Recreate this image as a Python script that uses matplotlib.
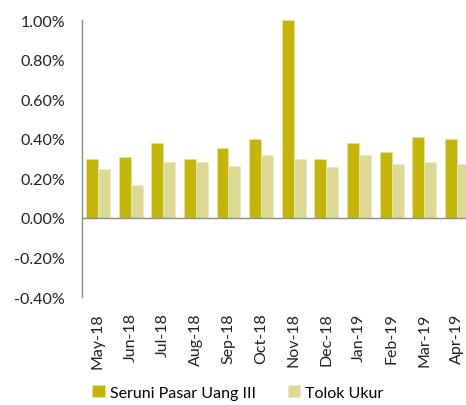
import matplotlib.pyplot as plt
import numpy as np
from matplotlib.ticker import FuncFormatter

# --- data (percent) ---
months = ["May-18", "Jun-18", "Jul-18", "Aug-18", "Sep-18", "Oct-18",
          "Nov-18", "Dec-18", "Jan-19", "Feb-19", "Mar-19", "Apr-19"]
fund = [0.30, 0.31, 0.38, 0.30, 0.355, 0.40, 1.00, 0.30, 0.38, 0.335, 0.41, 0.40]
benchmark = [0.245, 0.165, 0.285, 0.285, 0.26, 0.32, 0.297, 0.257, 0.317, 0.275, 0.285, 0.27]
series_names = ["Seruni Pasar Uang III", "Tolok Ukur"]

dark = "#C3B50B"
light = "#DCD995"

plt.rcParams["font.family"] = ["Lato", "DejaVu Sans"]

fig = plt.figure(figsize=(4.66, 4.06), dpi=100)
ax = fig.add_axes([0.1753, 0.266, 0.84, 0.682])

x = np.arange(len(months))
w = 0.367
ax.bar(x - w / 2, fund, width=w, color=dark, edgecolor="#E8E2A8", linewidth=0.4,
       label=series_names[0], zorder=2)
ax.bar(x + w / 2, benchmark, width=w, color=light, edgecolor="#EEEBC4", linewidth=0.4,
       label=series_names[1], zorder=2)

ax.set_xlim(-0.5, len(months) - 0.5)
ax.set_ylim(-0.4, 1.0)
ax.set_yticks(np.arange(-0.4, 1.01, 0.2))
ax.yaxis.set_major_formatter(FuncFormatter(lambda v, p: f"{v:.2f}%"))
ax.set_xticks(x)
ax.set_xticklabels(months, rotation=90, fontsize=11.5, color="#222222")
ax.tick_params(axis="y", length=0, pad=12, labelsize=11.5, labelcolor="#222222")
ax.tick_params(axis="x", length=0, pad=11)

for s in ["top", "right", "bottom"]:
    ax.spines[s].set_visible(False)
ax.spines["left"].set_color("#8C8C8C")
ax.spines["left"].set_linewidth(1.0)
ax.axhline(0, color="#8C8C8C", linewidth=1.0, zorder=3)

fig.legend(loc="lower center", bbox_to_anchor=(0.51, -0.022), ncol=2, frameon=False,
           fontsize=11.5, handlelength=0.8, handleheight=0.8, handletextpad=0.3,
           columnspacing=2.0)

fig.savefig("out.png", dpi=100)
